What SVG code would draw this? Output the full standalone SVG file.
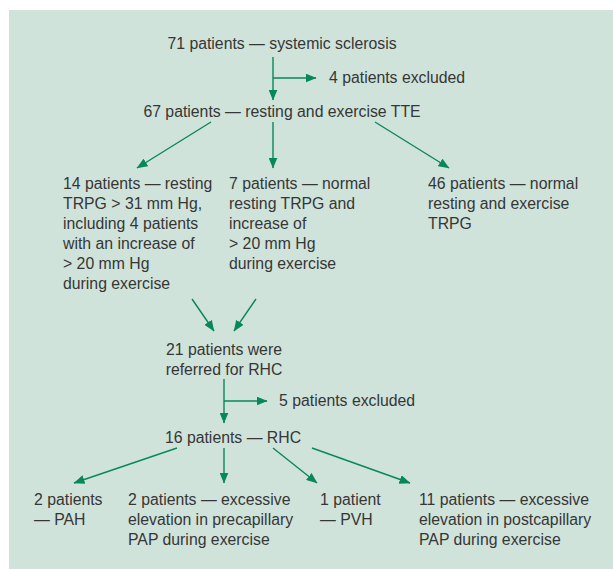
<svg xmlns="http://www.w3.org/2000/svg" width="613" height="569" viewBox="0 0 613 569">
<defs>
<marker id="ah" markerWidth="11" markerHeight="9" refX="10.5" refY="4.5" orient="auto" markerUnits="userSpaceOnUse">
<path d="M0,0 L11,4.5 L0,9 z" fill="#07885a"/>
</marker>
<style>
text{font-family:"Liberation Sans",Arial,sans-serif;font-size:15.8px;fill:#363636;}
.c{text-anchor:middle;}
.ln{stroke:#07885a;stroke-width:1.4;fill:none;}
.a{marker-end:url(#ah);}
</style>
</defs>
<rect x="9" y="10" width="604" height="559" fill="#cfe3da"/>
<g id="connectors">
<line class="ln a" x1="273" y1="57" x2="273" y2="100"/>
<line class="ln a" x1="273" y1="78" x2="316" y2="78"/>
<line class="ln a" x1="211" y1="122" x2="137" y2="168"/>
<line class="ln a" x1="273" y1="122" x2="273" y2="168"/>
<line class="ln a" x1="375" y1="122" x2="449" y2="168"/>
<line class="ln a" x1="192" y1="299" x2="214" y2="331"/>
<line class="ln a" x1="256" y1="299" x2="234" y2="331"/>
<line class="ln a" x1="224" y1="379" x2="224" y2="423"/>
<line class="ln a" x1="224" y1="401" x2="267" y2="401"/>
<line class="ln a" x1="177" y1="448" x2="74" y2="483"/>
<line class="ln a" x1="224" y1="448" x2="224" y2="483"/>
<line class="ln a" x1="273" y1="448" x2="317" y2="483"/>
<line class="ln a" x1="312" y1="448" x2="410" y2="483"/>
</g>
<g id="n71"><text class="c" x="282" y="49">71 patients — systemic sclerosis</text></g>
<g id="ex4"><text x="329" y="83">4 patients excluded</text></g>
<g id="n67"><text class="c" x="282" y="117">67 patients — resting and exercise TTE</text></g>
<g id="n14">
<text x="63" y="189">14 patients — resting</text>
<text x="63" y="209">TRPG &gt; 31 mm Hg,</text>
<text x="63" y="229">including 4 patients</text>
<text x="63" y="249">with an increase of</text>
<text x="63" y="269">&gt; 20 mm Hg</text>
<text x="63" y="289">during exercise</text>
</g>
<g id="n7">
<text x="229" y="189">7 patients — normal</text>
<text x="229" y="209">resting TRPG and</text>
<text x="229" y="229">increase of</text>
<text x="229" y="249">&gt; 20 mm Hg</text>
<text x="229" y="269">during exercise</text>
</g>
<g id="n46">
<text x="428" y="189">46 patients — normal</text>
<text x="428" y="209">resting and exercise</text>
<text x="428" y="229">TRPG</text>
</g>
<g id="n21">
<text class="c" x="224" y="355">21 patients were</text>
<text class="c" x="224" y="375">referred for RHC</text>
</g>
<g id="ex5"><text x="279" y="406">5 patients excluded</text></g>
<g id="n16"><text class="c" x="233" y="443">16 patients — RHC</text></g>
<g id="pah">
<text x="34" y="505">2 patients</text>
<text x="34" y="525">— PAH</text>
</g>
<g id="pre">
<text x="128" y="505">2 patients — excessive</text>
<text x="128" y="525">elevation in precapillary</text>
<text x="128" y="545">PAP during exercise</text>
</g>
<g id="pvh">
<text x="320" y="505">1 patient</text>
<text x="320" y="525">— PVH</text>
</g>
<g id="post">
<text x="419" y="505">11 patients — excessive</text>
<text x="419" y="525">elevation in postcapillary</text>
<text x="419" y="545">PAP during exercise</text>
</g>
</svg>
